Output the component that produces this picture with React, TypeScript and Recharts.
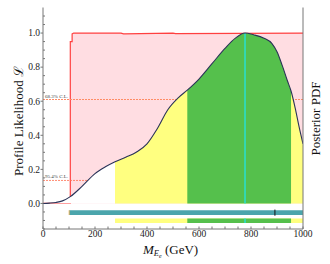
import React from "react";
import {
  Area,
  ComposedChart,
  Line,
  ReferenceArea,
  ReferenceLine,
  XAxis,
  YAxis,
} from "recharts";

// profile likelihood (red step)
const profileX = [0, 105, 105, 112, 112, 118, 300, 310, 500, 510, 1000];
const profileY = [0, 0, 0.95, 0.95, 0.995, 1.0, 1.0, 0.995, 1.0, 0.997, 1.0];

// posterior pdf (normalised to peak)
const postX = [0, 25, 50, 75, 105, 150, 200, 240, 277, 320, 360, 400, 440, 480, 520, 555, 600, 650, 700, 740, 777, 810, 850, 880, 900, 920, 940, 954, 970, 985, 1000];
const postY = [0, 0.002, 0.006, 0.015, 0.04, 0.1, 0.175, 0.215, 0.245, 0.272, 0.302, 0.35, 0.44, 0.55, 0.62, 0.665, 0.73, 0.82, 0.91, 0.97, 1.0, 0.99, 0.97, 0.94, 0.89, 0.81, 0.72, 0.66, 0.56, 0.45, 0.35];

const interval95 = [277, 1000];
const interval68 = [555, 954];
const bestFit = 777;
const profileInterval = [101, 1000];
const profileBest = 892;
const cl68 = 0.61;
const cl95 = 0.135;

const xTicks = [0, 50, 100, 150, 200, 250, 300, 350, 400, 450, 500, 550, 600, 650, 700, 750, 800, 850, 900, 950, 1000];
const xLabels = [0, 200, 400, 600, 800, 1000];
const yTicks = [-0.15, -0.1, -0.05, 0, 0.05, 0.1, 0.15, 0.2, 0.25, 0.3, 0.35, 0.4, 0.45, 0.5, 0.55, 0.6, 0.65, 0.7, 0.75, 0.8, 0.85, 0.9, 0.95, 1.0, 1.05, 1.1];
const yLabels = [0, 0.2, 0.4, 0.6, 0.8, 1.0];
const rightTicks = [0, 0.08, 0.16, 0.24, 0.32, 0.4, 0.48, 0.56, 0.64, 0.72, 0.8, 0.88, 0.96, 1.04, 1.12];

const profile = profileX.map((x, i) => ({ x, y: profileY[i] }));
const posterior = postX.map((x, i) => ({ x, y: postY[i] }));
const between = (a: number, b: number) => posterior.filter((p) => p.x >= a && p.x <= b);

const SERIF = '"Liberation Serif", "DejaVu Serif", serif';
const FRAME = "#777";

const isLabel = (list: number[], v: number) => list.some((l) => Math.abs(l - v) < 1e-6);

const BottomTick = (props: any) => {
  const { x, y, payload } = props;
  const major = isLabel(xLabels, payload.value);
  return (
    <g>
      <line x1={x} x2={x} y1={y} y2={y - 2.5} stroke={FRAME} />
      {major && (
        <text x={x} y={y + 8} textAnchor="middle" fontSize={9.5} fontFamily={SERIF} fill="#222">
          {payload.value}
        </text>
      )}
    </g>
  );
};

const TopTick = (props: any) => {
  const { x, y } = props;
  return <line x1={x} x2={x} y1={y} y2={y + 2.5} stroke={FRAME} />;
};

const LeftTick = (props: any) => {
  const { x, y, payload } = props;
  const major = isLabel(yLabels, payload.value);
  return (
    <g>
      {major ? (
        <line x1={x} x2={x - 2.5} y1={y} y2={y} stroke={FRAME} />
      ) : (
        <line x1={x} x2={x + 2} y1={y} y2={y} stroke={FRAME} />
      )}
      {major && (
        <text x={x - 3} y={y + 3.3} textAnchor="end" fontSize={9.5} fontFamily={SERIF} fill="#222">
          {payload.value.toFixed(1)}
        </text>
      )}
    </g>
  );
};

const RightTick = (props: any) => {
  const { x, y } = props;
  return <line x1={x} x2={x - 2.5} y1={y} y2={y} stroke={FRAME} />;
};

export default function App() {
  return (
    <div style={{ position: "absolute", left: 0, top: 0, width: 330, height: 264, background: "#fff" }}>
      <ComposedChart
        width={330}
        height={264}
        margin={{ top: 7.5, right: 7, bottom: 0, left: 8 }}
      >
        <XAxis
          type="number"
          dataKey="x"
          domain={[0, 1000]}
          ticks={xTicks}
          allowDataOverflow
          height={35}
          stroke={FRAME}
          tickSize={0}
          tickMargin={0}
          tick={BottomTick}
          interval={0}
        />
        <XAxis
          xAxisId="top"
          orientation="top"
          type="number"
          dataKey="x"
          domain={[0, 1000]}
          ticks={xTicks}
          height={0}
          stroke={FRAME}
          tickSize={0}
          tickMargin={0}
          tick={TopTick}
          interval={0}
        />
        <YAxis
          type="number"
          domain={[-0.15, 1.15]}
          ticks={yTicks}
          allowDataOverflow
          width={35}
          stroke={FRAME}
          tickSize={0}
          tickMargin={0}
          tick={LeftTick}
          interval={0}
        />
        <YAxis
          yAxisId="right"
          orientation="right"
          type="number"
          domain={[-0.15, 1.15]}
          ticks={rightTicks}
          width={20}
          stroke={FRAME}
          tickSize={0}
          tickMargin={0}
          tick={RightTick}
          interval={0}
        />

        <ReferenceArea x1={profileInterval[0]} x2={profileInterval[1]} y1={-0.068} y2={-0.04} fill="#4ba5ac" fillOpacity={1} stroke="none" />
        <ReferenceArea x1={profileInterval[0] - 2} x2={profileInterval[0] + 1} y1={-0.068} y2={-0.04} fill="#f0a030" fillOpacity={1} stroke="none" />
        <ReferenceArea x1={interval95[0]} x2={interval95[1]} y1={-0.115} y2={-0.088} fill="#ffff80" fillOpacity={1} stroke="none" />
        <ReferenceArea x1={interval68[0]} x2={interval68[1]} y1={-0.115} y2={-0.088} fill="#55c04c" fillOpacity={1} stroke="none" />

        <Area
          data={profile}
          dataKey="y"
          type="linear"
          baseValue={0}
          stroke="#ff4040"
          strokeWidth={1.2}
          fill="#ffdde2"
          fillOpacity={1}
          isAnimationActive={false}
        />
        {/* C.L. lines drawn as unfilled areas so the posterior fills sit on top */}
        <Area
          data={[{ x: 0, y: cl68 }, { x: 1000, y: cl68 }]}
          dataKey="y"
          type="linear"
          baseValue={0}
          stroke="#ff8c66"
          strokeDasharray="2 1"
          strokeWidth={1}
          fill="none"
          isAnimationActive={false}
        />
        <Area
          data={[{ x: 0, y: cl95 }, { x: 1000, y: cl95 }]}
          dataKey="y"
          type="linear"
          baseValue={0}
          stroke="#ff7050"
          strokeDasharray="2 1"
          strokeWidth={0.8}
          fill="none"
          isAnimationActive={false}
        />
        <Area
          data={between(0, interval95[0])}
          dataKey="y"
          type="monotone"
          baseValue={0}
          stroke="none"
          fill="#ffffff"
          fillOpacity={1}
          isAnimationActive={false}
        />
        <Area
          data={between(interval95[0], interval95[1])}
          dataKey="y"
          type="monotone"
          baseValue={0}
          stroke="none"
          fill="#ffff80"
          fillOpacity={1}
          isAnimationActive={false}
        />
        <Area
          data={between(interval68[0], interval68[1])}
          dataKey="y"
          type="monotone"
          baseValue={0}
          stroke="none"
          fill="#55c04c"
          fillOpacity={1}
          isAnimationActive={false}
        />
        <Line
          data={[{ x: bestFit, y: 0 }, { x: bestFit, y: 1 }]}
          dataKey="y"
          stroke="#22e4e4"
          strokeWidth={1.3}
          dot={false}
          isAnimationActive={false}
        />
        <Line
          data={[{ x: bestFit, y: -0.115 }, { x: bestFit, y: -0.088 }]}
          dataKey="y"
          stroke="#22e4e4"
          strokeWidth={1.3}
          dot={false}
          isAnimationActive={false}
        />
        <Line
          data={[{ x: profileBest, y: -0.072 }, { x: profileBest, y: -0.036 }]}
          dataKey="y"
          stroke="#111"
          strokeWidth={1}
          dot={false}
          isAnimationActive={false}
        />
        <Line
          data={posterior}
          dataKey="y"
          type="monotone"
          stroke="#2a3358"
          strokeWidth={1.1}
          dot={false}
          isAnimationActive={false}
        />

        <ReferenceLine
          y={cl68}
          strokeOpacity={0}
          label={{ value: "68.3% C.L.", position: "insideBottomLeft", offset: 2, fontSize: 5, fill: "#444", fontFamily: SERIF }}
        />
        <ReferenceLine
          y={cl95}
          strokeOpacity={0}
          label={{ value: "95.4% C.L.", position: "insideBottomLeft", offset: 2, fontSize: 5, fill: "#444", fontFamily: SERIF }}
        />
      </ComposedChart>

      <svg width={330} height={264} style={{ position: "absolute", left: 0, top: 0, pointerEvents: "none" }}>
        <text transform="translate(22.5,121) rotate(-90)" textAnchor="middle" fontSize={13} fontFamily={SERIF} fill="#111">
          Profile Likelihood ℒ
        </text>
        <text transform="translate(320,118.5) rotate(-90)" textAnchor="middle" fontSize={13} fontFamily={SERIF} fill="#111">
          Posterior PDF
        </text>
        <text x={143} y={253.5} fontSize={13} fontFamily={SERIF} fill="#111">
          <tspan fontStyle="italic">M</tspan>
          <tspan fontStyle="italic" fontSize={8.5} dy={2.5}>E</tspan>
          <tspan fontStyle="italic" fontSize={6} dy={1.5}>e</tspan>
          <tspan fontSize={13} dy={-4}> (GeV)</tspan>
        </text>
      </svg>
    </div>
  );
}
